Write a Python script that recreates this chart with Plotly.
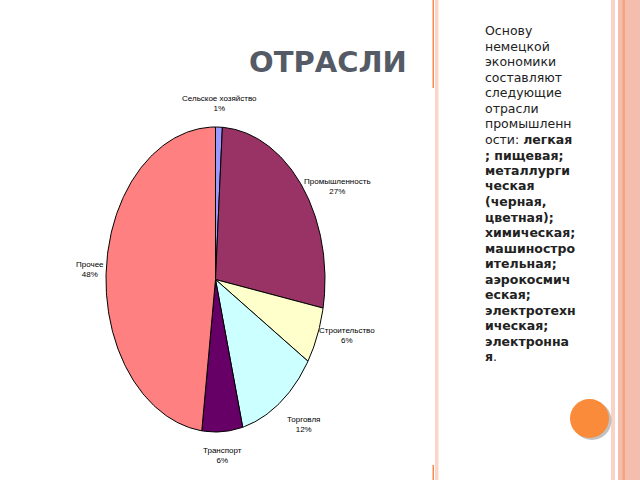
import numpy as np
import plotly.graph_objects as go

# данные диаграммы
sectors = ["Сельское хозяйство", "Промышленность", "Строительство", "Торговля", "Транспорт", "Прочее"]
shares = [1, 27, 6, 12, 6, 48]
colors = ["#9999FF", "#993366", "#FFFFCC", "#CCFFFF", "#660066", "#FF8080"]

title_text = "ОТРАСЛИ"
side_lines = [
    "Основу", "немецкой", "экономики", "составляют", "следующие", "отрасли",
    "промышленн", "ости: <b>легкая</b>", "<b>; пищевая;</b>", "<b>металлурги</b>",
    "<b>ческая</b>", "<b>(черная,</b>", "<b>цветная);</b>", "<b>химическая;</b>",
    "<b>машиностро</b>", "<b>ительная;</b>", "<b>аэрокосмич</b>", "<b>еская;</b>",
    "<b>электротехн</b>", "<b>ическая;</b>", "<b>электронна</b>", "<b>я</b>.",
]

fig = go.Figure()

# круговая диаграмма (эллипс, как в Excel-слайде)
total = sum(shares)
start = 0.0
for name, v, c in zip(sectors, shares, colors):
    a0 = start / total * 2 * np.pi
    a1 = (start + v) / total * 2 * np.pi
    t = np.linspace(a0, a1, max(8, int(v * 4)))
    xs = np.concatenate([[0], np.sin(t), [0]])
    ys = np.concatenate([[0], np.cos(t), [0]])
    fig.add_trace(go.Scatter(x=xs, y=ys, mode="lines", fill="toself", fillcolor=c,
                             line=dict(color="black", width=1), hoverinfo="text",
                             text=f"{name} {v}%", showlegend=False))
    mid = (a0 + a1) / 2
    s, co = np.sin(mid), np.cos(mid)
    xa = "left" if s > 0.3 else ("right" if s < -0.3 else "center")
    ya = "bottom" if co > 0.8 else ("top" if co < -0.8 else "middle")
    r = 1.08 if ya != "middle" else 1.0
    fig.add_annotation(x=r * s, y=r * co, xref="x", yref="y", text=f"{name}<br>{v}%",
                       showarrow=False, xanchor=xa, yanchor=ya, align="center",
                       font=dict(family="Liberation Sans", size=8, color="black"))
    start += v

# центр (215.5, 279.5) px, полуоси 109.5 x 152.5 px
kx, ky = 1.5, 1.3
fig.update_xaxes(domain=[(215.5 - 109.5 * kx) / 640, (215.5 + 109.5 * kx) / 640],
                 range=[-kx, kx], visible=False, fixedrange=True)
fig.update_yaxes(domain=[1 - (279.5 + 152.5 * ky) / 480, 1 - (279.5 - 152.5 * ky) / 480],
                 range=[-ky, ky], visible=False, fixedrange=True)

# заголовок
fig.add_annotation(x=328 / 640, y=1 - 62 / 480, xref="paper", yref="paper", text=f"<b>{title_text}</b>",
                   showarrow=False, xanchor="center", yanchor="middle",
                   font=dict(family="DejaVu Sans", size=29, color="#545b66"))

# текст справа
for i, line in enumerate(side_lines):
    fig.add_annotation(x=483 / 640, y=1 - (31 + i * 15.5) / 480, xref="paper", yref="paper",
                       text=line, showarrow=False, xanchor="left", yanchor="middle",
                       font=dict(family="DejaVu Sans", size=12.5, color="#222"))

# оформление слайда
shapes = [
    dict(type="rect", x0=435, x1=438.5, y0=0, y1=480, fillcolor="#FBD5C8", line_width=0),
    dict(type="rect", x0=432.5, x1=434, y0=392, y1=480, fillcolor="#F7894F", line_width=0),
    dict(type="rect", x0=432.5, x1=434, y0=0, y1=15, fillcolor="#F7894F", line_width=0),
    dict(type="rect", x0=611, x1=615, y0=0, y1=480, fillcolor="#F9D3C6", line_width=0),
    dict(type="rect", x0=618, x1=640, y0=0, y1=480, fillcolor="#F3BEAD", line_width=0),
    dict(type="rect", x0=622.5, x1=625, y0=0, y1=480, fillcolor="#F5A27E", line_width=0),
    dict(type="circle", x0=572.5, x1=611.5, y0=40, y1=79, fillcolor="#9a9a9a", line_width=0, opacity=0.6),
    dict(type="circle", x0=570, x1=609, y0=42, y1=81, fillcolor="#F98B3A", line_width=0),
]
for sh in shapes:
    sh.update(xref="paper", yref="paper")
    sh["x0"] /= 640; sh["x1"] /= 640; sh["y0"] /= 480; sh["y1"] /= 480
    sh["layer"] = "below"
fig.update_layout(shapes=shapes)

fig.update_layout(width=640, height=480, margin=dict(l=0, r=0, t=0, b=0),
                  paper_bgcolor="white", plot_bgcolor="rgba(0,0,0,0)", showlegend=False)
fig.write_html("out.html", config={"displayModeBar": False},
               post_script="document.body.style.margin='0';")
